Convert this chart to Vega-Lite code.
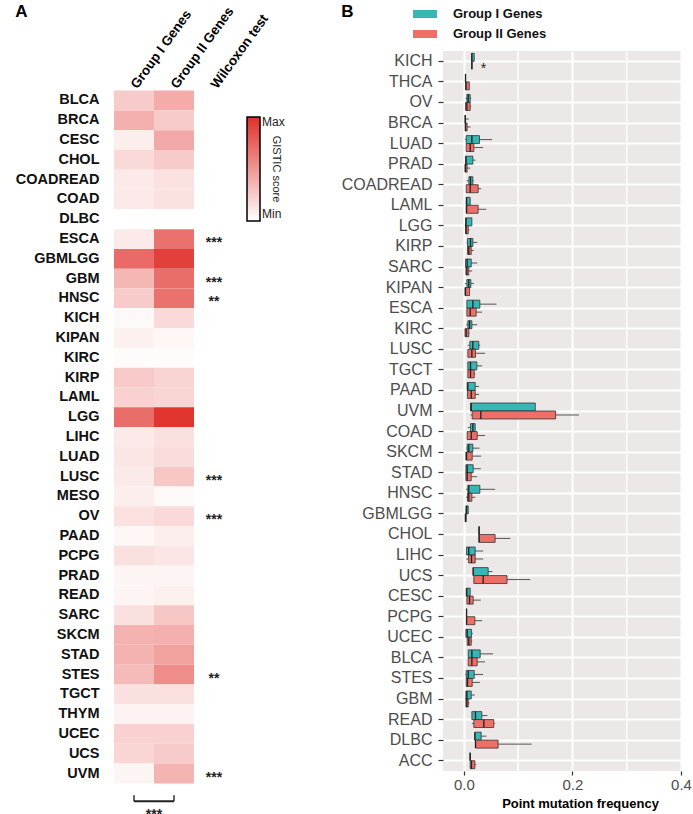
{
"$schema": "https://vega.github.io/schema/vega-lite/v6.json",
"background": "white",
"padding": {"left": 15, "top": 3, "right": 5, "bottom": 5},
"spacing": 56,
"config": {"font": "Liberation Sans", "view": {"stroke": null}},
"resolve": {"scale": {"color": "independent"}, "legend": {"color": "independent"}},
"datasets": {
"heat": [
{"c":"BLCA","Group I Genes":0.25,"Group II Genes":0.40,"w":""},
{"c":"BRCA","Group I Genes":0.38,"Group II Genes":0.25,"w":""},
{"c":"CESC","Group I Genes":0.08,"Group II Genes":0.42,"w":""},
{"c":"CHOL","Group I Genes":0.18,"Group II Genes":0.25,"w":""},
{"c":"COADREAD","Group I Genes":0.10,"Group II Genes":0.14,"w":""},
{"c":"COAD","Group I Genes":0.10,"Group II Genes":0.14,"w":""},
{"c":"DLBC","Group I Genes":0.0,"Group II Genes":0.0,"w":""},
{"c":"ESCA","Group I Genes":0.10,"Group II Genes":0.68,"w":"***"},
{"c":"GBMLGG","Group I Genes":0.72,"Group II Genes":0.92,"w":""},
{"c":"GBM","Group I Genes":0.35,"Group II Genes":0.70,"w":"***"},
{"c":"HNSC","Group I Genes":0.25,"Group II Genes":0.68,"w":"**"},
{"c":"KICH","Group I Genes":0.03,"Group II Genes":0.18,"w":""},
{"c":"KIPAN","Group I Genes":0.07,"Group II Genes":0.04,"w":""},
{"c":"KIRC","Group I Genes":0.02,"Group II Genes":0.02,"w":""},
{"c":"KIRP","Group I Genes":0.26,"Group II Genes":0.21,"w":""},
{"c":"LAML","Group I Genes":0.22,"Group II Genes":0.20,"w":""},
{"c":"LGG","Group I Genes":0.70,"Group II Genes":0.97,"w":""},
{"c":"LIHC","Group I Genes":0.10,"Group II Genes":0.15,"w":""},
{"c":"LUAD","Group I Genes":0.12,"Group II Genes":0.17,"w":""},
{"c":"LUSC","Group I Genes":0.10,"Group II Genes":0.27,"w":"***"},
{"c":"MESO","Group I Genes":0.08,"Group II Genes":0.03,"w":""},
{"c":"OV","Group I Genes":0.14,"Group II Genes":0.18,"w":"***"},
{"c":"PAAD","Group I Genes":0.04,"Group II Genes":0.08,"w":""},
{"c":"PCPG","Group I Genes":0.15,"Group II Genes":0.12,"w":""},
{"c":"PRAD","Group I Genes":0.05,"Group II Genes":0.05,"w":""},
{"c":"READ","Group I Genes":0.05,"Group II Genes":0.07,"w":""},
{"c":"SARC","Group I Genes":0.15,"Group II Genes":0.27,"w":""},
{"c":"SKCM","Group I Genes":0.37,"Group II Genes":0.38,"w":""},
{"c":"STAD","Group I Genes":0.37,"Group II Genes":0.45,"w":""},
{"c":"STES","Group I Genes":0.33,"Group II Genes":0.55,"w":"**"},
{"c":"TGCT","Group I Genes":0.15,"Group II Genes":0.15,"w":""},
{"c":"THYM","Group I Genes":0.06,"Group II Genes":0.06,"w":""},
{"c":"UCEC","Group I Genes":0.22,"Group II Genes":0.22,"w":""},
{"c":"UCS","Group I Genes":0.20,"Group II Genes":0.25,"w":""},
{"c":"UVM","Group I Genes":0.05,"Group II Genes":0.36,"w":"***"}
],
"box": [
{"c":"KICH","g":"Group I Genes","q1":0.0141,"md":0.0147,"q3":0.019},
{"c":"KICH","g":"Group II Genes","q1":0.0147,"md":0.0147,"q3":0.0147},
{"c":"THCA","g":"Group I Genes","q1":0.003,"md":0.003,"q3":0.003},
{"c":"THCA","g":"Group II Genes","q1":0.003,"md":0.004,"q3":0.010},
{"c":"OV","g":"Group I Genes","lo":0.003,"q1":0.0055,"md":0.008,"q3":0.0116,"hi":0.0135},
{"c":"OV","g":"Group II Genes","q1":0.003,"md":0.0055,"q3":0.0116,"hi":0.0135},
{"c":"BRCA","g":"Group I Genes","q1":0.0025,"md":0.0025,"q3":0.0025,"hi":0.009},
{"c":"BRCA","g":"Group II Genes","q1":0.0025,"md":0.003,"q3":0.006,"hi":0.012},
{"c":"LUAD","g":"Group I Genes","lo":0.002,"q1":0.0043,"md":0.0147,"q3":0.0287,"hi":0.052},
{"c":"LUAD","g":"Group II Genes","q1":0.0043,"md":0.0116,"q3":0.0183,"hi":0.0355},
{"c":"PRAD","g":"Group I Genes","q1":0.003,"md":0.004,"q3":0.0165,"hi":0.0214},
{"c":"PRAD","g":"Group II Genes","q1":0.002,"md":0.003,"q3":0.006,"hi":0.0116},
{"c":"COADREAD","g":"Group I Genes","lo":0.005,"q1":0.0092,"md":0.0122,"q3":0.0165,"hi":0.018},
{"c":"COADREAD","g":"Group II Genes","q1":0.0043,"md":0.0116,"q3":0.0263,"hi":0.0318},
{"c":"LAML","g":"Group I Genes","q1":0.0043,"md":0.005,"q3":0.0116},
{"c":"LAML","g":"Group II Genes","q1":0.0043,"md":0.005,"q3":0.0263,"hi":0.041},
{"c":"LGG","g":"Group I Genes","q1":0.003,"md":0.004,"q3":0.0147},
{"c":"LGG","g":"Group II Genes","q1":0.003,"md":0.004,"q3":0.008,"hi":0.0104},
{"c":"KIRP","g":"Group I Genes","lo":0.005,"q1":0.0067,"md":0.0122,"q3":0.0165,"hi":0.0245},
{"c":"KIRP","g":"Group II Genes","q1":0.0067,"md":0.009,"q3":0.0135,"hi":0.0183},
{"c":"SARC","g":"Group I Genes","q1":0.003,"md":0.006,"q3":0.0135,"hi":0.0245},
{"c":"SARC","g":"Group II Genes","q1":0.0037,"md":0.0055,"q3":0.009,"hi":0.0153},
{"c":"KIPAN","g":"Group I Genes","lo":0.0025,"q1":0.0055,"md":0.009,"q3":0.0128,"hi":0.0183},
{"c":"KIPAN","g":"Group II Genes","q1":0.002,"md":0.003,"q3":0.0104},
{"c":"ESCA","g":"Group I Genes","q1":0.0055,"md":0.0165,"q3":0.0294,"hi":0.06},
{"c":"ESCA","g":"Group II Genes","q1":0.0055,"md":0.0116,"q3":0.0226,"hi":0.0336},
{"c":"KIRC","g":"Group I Genes","lo":0.0043,"q1":0.0073,"md":0.0104,"q3":0.0147,"hi":0.0245},
{"c":"KIRC","g":"Group II Genes","q1":0.002,"md":0.0043,"q3":0.009,"hi":0.0104},
{"c":"LUSC","g":"Group I Genes","lo":0.0073,"q1":0.011,"md":0.0165,"q3":0.0275,"hi":0.03},
{"c":"LUSC","g":"Group II Genes","q1":0.0073,"md":0.0147,"q3":0.0214,"hi":0.039},
{"c":"TGCT","g":"Group I Genes","q1":0.0073,"md":0.0122,"q3":0.0239,"hi":0.0336},
{"c":"TGCT","g":"Group II Genes","q1":0.0073,"md":0.0122,"q3":0.019,"hi":0.021},
{"c":"PAAD","g":"Group I Genes","q1":0.0061,"md":0.0073,"q3":0.0208,"hi":0.028},
{"c":"PAAD","g":"Group II Genes","q1":0.0067,"md":0.0135,"q3":0.0208,"hi":0.028},
{"c":"UVM","g":"Group I Genes","q1":0.0122,"md":0.0135,"q3":0.1315},
{"c":"UVM","g":"Group II Genes","lo":0.0122,"q1":0.0153,"md":0.0312,"q3":0.169,"hi":0.212},
{"c":"COAD","g":"Group I Genes","lo":0.0073,"q1":0.0122,"md":0.0165,"q3":0.0208},
{"c":"COAD","g":"Group II Genes","q1":0.0061,"md":0.0135,"q3":0.0245,"hi":0.039},
{"c":"SKCM","g":"Group I Genes","lo":0.0043,"q1":0.0061,"md":0.009,"q3":0.0165,"hi":0.0287},
{"c":"SKCM","g":"Group II Genes","q1":0.0037,"md":0.0049,"q3":0.0153,"hi":0.0318},
{"c":"STAD","g":"Group I Genes","q1":0.0037,"md":0.0061,"q3":0.0171,"hi":0.0312},
{"c":"STAD","g":"Group II Genes","q1":0.0037,"md":0.0061,"q3":0.0135,"hi":0.0245},
{"c":"HNSC","g":"Group I Genes","lo":0.004,"q1":0.0073,"md":0.009,"q3":0.0294,"hi":0.0575},
{"c":"HNSC","g":"Group II Genes","lo":0.004,"q1":0.0067,"md":0.009,"q3":0.0147,"hi":0.0214},
{"c":"GBMLGG","g":"Group I Genes","q1":0.0037,"md":0.005,"q3":0.008},
{"c":"GBMLGG","g":"Group II Genes","q1":0.0025,"md":0.003,"q3":0.0043},
{"c":"CHOL","g":"Group I Genes","q1":0.028,"md":0.028,"q3":0.028},
{"c":"CHOL","g":"Group II Genes","q1":0.028,"md":0.028,"q3":0.0575,"hi":0.0856},
{"c":"LIHC","g":"Group I Genes","q1":0.0049,"md":0.009,"q3":0.0208,"hi":0.0355},
{"c":"LIHC","g":"Group II Genes","lo":0.0043,"q1":0.0086,"md":0.014,"q3":0.0208,"hi":0.0355},
{"c":"UCS","g":"Group I Genes","q1":0.0171,"md":0.0171,"q3":0.0447,"hi":0.0526},
{"c":"UCS","g":"Group II Genes","q1":0.0183,"md":0.0355,"q3":0.0795,"hi":0.1223},
{"c":"CESC","g":"Group I Genes","q1":0.0043,"md":0.0055,"q3":0.0116},
{"c":"CESC","g":"Group II Genes","q1":0.0055,"md":0.0104,"q3":0.0171,"hi":0.0312},
{"c":"PCPG","g":"Group I Genes","q1":0.0049,"md":0.0049,"q3":0.0049},
{"c":"PCPG","g":"Group II Genes","q1":0.0049,"md":0.0049,"q3":0.0202,"hi":0.0336},
{"c":"UCEC","g":"Group I Genes","q1":0.0037,"md":0.0061,"q3":0.0141,"hi":0.0165},
{"c":"UCEC","g":"Group II Genes","q1":0.0061,"md":0.009,"q3":0.0135,"hi":0.0153},
{"c":"BLCA","g":"Group I Genes","q1":0.008,"md":0.0147,"q3":0.03,"hi":0.054},
{"c":"BLCA","g":"Group II Genes","q1":0.008,"md":0.0147,"q3":0.0245,"hi":0.039},
{"c":"STES","g":"Group I Genes","lo":0.0025,"q1":0.0043,"md":0.008,"q3":0.019,"hi":0.0355},
{"c":"STES","g":"Group II Genes","q1":0.0043,"md":0.0067,"q3":0.0153,"hi":0.0294},
{"c":"GBM","g":"Group I Genes","q1":0.0037,"md":0.0055,"q3":0.0135,"hi":0.0202},
{"c":"GBM","g":"Group II Genes","q1":0.0037,"md":0.0055,"q3":0.008,"hi":0.0104},
{"c":"READ","g":"Group I Genes","q1":0.0147,"md":0.0214,"q3":0.033,"hi":0.0434},
{"c":"READ","g":"Group II Genes","lo":0.0147,"q1":0.0183,"md":0.0367,"q3":0.055,"hi":0.0575},
{"c":"DLBC","g":"Group I Genes","q1":0.0202,"md":0.0202,"q3":0.0318,"hi":0.0416},
{"c":"DLBC","g":"Group II Genes","q1":0.0214,"md":0.0214,"q3":0.063,"hi":0.1248},
{"c":"ACC","g":"Group I Genes","q1":0.0116,"md":0.0116,"q3":0.0116},
{"c":"ACC","g":"Group II Genes","q1":0.0116,"md":0.014,"q3":0.0202,"hi":0.0226}
]
},
"hconcat": [
{
"width": 120,
"height": 772,
"title": {"text": "A", "anchor": "start", "frame": "bounds", "fontSize": 17, "fontWeight": "bold", "color": "#000", "offset": -17},
"layer": [
{
"data": {"name": "heat"},
"transform": [{"fold": ["Group I Genes", "Group II Genes"], "as": ["col", "score"]}],
"mark": {"type": "rect"},
"encoding": {
"x": {"field": "col", "type": "nominal",
"scale": {"domain": ["Group I Genes", "Group II Genes", "Wilcoxon test"], "paddingInner": 0, "paddingOuter": 0},
"axis": {"orient": "top", "offset": -39.6, "title": null, "labelAngle": -54, "labelAlign": "left", "labelBaseline": "middle", "labelFontSize": 13.5, "labelFontWeight": "bold", "labelColor": "#000", "ticks": false, "domain": false, "labelPadding": 4}},
"y": {"field": "c", "type": "nominal",
"scale": {"domain": ["_t1","_t2","BLCA","BRCA","CESC","CHOL","COADREAD","COAD","DLBC","ESCA","GBMLGG","GBM","HNSC","KICH","KIPAN","KIRC","KIRP","LAML","LGG","LIHC","LUAD","LUSC","MESO","OV","PAAD","PCPG","PRAD","READ","SARC","SKCM","STAD","STES","TGCT","THYM","UCEC","UCS","UVM","_b1","_b2"], "paddingInner": 0, "paddingOuter": 0},
"axis": {"title": null, "ticks": false, "domain": false, "labelFontSize": 14.5, "labelFontWeight": "bold", "labelColor": "#111", "labelPadding": 15, "labelExpr": "indexof(datum.value, '_') == 0 ? '' : datum.value"}},
"color": {"field": "score", "type": "quantitative",
"scale": {"domain": [0, 1], "range": ["#ffffff", "#e0302a"], "interpolate": "rgb"},
"legend": {"orient": "none", "legendX": 133, "legendY": 66, "direction": "vertical", "gradientLength": 104, "gradientThickness": 13, "gradientStrokeColor": "#000", "gradientStrokeWidth": 1.5, "values": [0, 1], "labelExpr": "datum.value >= 1 ? 'Max' : 'Min'", "labelFontSize": 12, "labelColor": "#222", "labelBaseline": "middle", "title": "GISTIC score", "titleOrient": "right", "titleAngle": 270, "titleAnchor": "middle", "titleFontSize": 11, "titleFontWeight": "normal", "titleColor": "#222", "titlePadding": -14}}
}
},
{
"data": {"name": "heat"},
"transform": [{"filter": "datum.w != ''"}],
"mark": {"type": "text", "fontSize": 14, "fontWeight": "bold", "baseline": "middle", "dy": 4, "color": "#222"},
"encoding": {
"x": {"datum": "Wilcoxon test", "type": "nominal"},
"y": {"field": "c", "type": "nominal"},
"text": {"field": "w"}
}
},
{
"data": {"values": [{"a": "Group I Genes", "b": "Group II Genes", "c": "_b1"}]},
"mark": {"type": "rule", "strokeWidth": 2, "yOffset": 8, "color": "#222"},
"encoding": {
"x": {"field": "a", "type": "nominal"},
"x2": {"field": "b"},
"y": {"field": "c", "type": "nominal"}
}
},
{
"data": {"values": [{"a": "Group I Genes", "c": "_b1"}, {"a": "Group II Genes", "c": "_b1"}]},
"mark": {"type": "tick", "orient": "vertical", "size": 6, "thickness": 2, "yOffset": 5, "color": "#222"},
"encoding": {
"x": {"field": "a", "type": "nominal"},
"y": {"field": "c", "type": "nominal"}
}
},
{
"data": {"values": [{"a": "Group I Genes", "c": "_b2", "t": "***"}]},
"mark": {"type": "text", "fontSize": 14, "fontWeight": "bold", "baseline": "middle", "dy": 2, "dx": 20, "color": "#222"},
"encoding": {
"x": {"field": "a", "type": "nominal"},
"y": {"field": "c", "type": "nominal"},
"text": {"field": "t"}
}
}
]
},
{
"width": 238,
"height": 720,
"view": {"fill": "#ece8e7", "stroke": null},
"title": {"text": "B", "anchor": "start", "frame": "bounds", "fontSize": 17, "fontWeight": "bold", "color": "#000", "offset": -17},
"layer": [
{
"data": {"values": [{"v": 0.1}, {"v": 0.3}]},
"mark": {"type": "rule", "color": "white", "strokeWidth": 1.5},
"encoding": {"x": {"field": "v", "type": "quantitative"}}
},
{
"data": {"name": "box"},
"mark": {"type": "rule", "color": "#555", "strokeWidth": 1},
"encoding": {
"x": {"field": "q3", "type": "quantitative"},
"x2": {"field": "hi"},
"y": {"field": "c", "type": "nominal"},
"yOffset": {"field": "g", "type": "nominal"}
}
},
{
"data": {"name": "box"},
"mark": {"type": "rule", "color": "#555", "strokeWidth": 1},
"encoding": {
"x": {"field": "lo", "type": "quantitative"},
"x2": {"field": "q1"},
"y": {"field": "c", "type": "nominal"},
"yOffset": {"field": "g", "type": "nominal"}
}
},
{
"data": {"name": "box"},
"mark": {"type": "bar", "stroke": "#333", "strokeWidth": 0.8},
"encoding": {
"x": {"field": "q1", "type": "quantitative",
"scale": {"domain": [-0.0385, 0.4], "nice": false, "zero": false},
"axis": {"values": [0, 0.2, 0.4], "format": ".1f", "labelFontSize": 15, "labelColor": "#4d4d4d", "labelFlush": false, "tickColor": "#333", "tickSize": 4, "tickWidth": 1.2, "domain": false, "grid": true, "gridColor": "white", "gridWidth": 2, "labelPadding": 2, "title": "Point mutation frequency", "titleFontSize": 13, "titleFontWeight": "bold", "titleColor": "#000", "titlePadding": 5, "titleX": 137}},
"x2": {"field": "q3"},
"y": {"field": "c", "type": "nominal",
"scale": {"domain": ["KICH","THCA","OV","BRCA","LUAD","PRAD","COADREAD","LAML","LGG","KIRP","SARC","KIPAN","ESCA","KIRC","LUSC","TGCT","PAAD","UVM","COAD","SKCM","STAD","HNSC","GBMLGG","CHOL","LIHC","UCS","CESC","PCPG","UCEC","BLCA","STES","GBM","READ","DLBC","ACC"], "paddingInner": 0, "paddingOuter": 0},
"axis": {"title": null, "labelFontSize": 16, "labelColor": "#4d4d4d", "tickColor": "#333", "tickSize": 5, "tickWidth": 1.2, "domain": false, "grid": true, "gridColor": "white", "gridWidth": 2, "bandPosition": 0.5, "labelPadding": 6}},
"yOffset": {"field": "g", "type": "nominal", "scale": {"domain": ["Group I Genes", "Group II Genes"], "paddingInner": 0, "paddingOuter": 0.29}},
"color": {"field": "g", "type": "nominal",
"scale": {"domain": ["Group I Genes", "Group II Genes"], "range": ["#35b7b5", "#ee6f67"]},
"legend": {"orient": "none", "legendX": -30, "legendY": -47, "title": null, "direction": "vertical", "symbolType": "M-1,-0.333H1V0.333H-1Z", "symbolSize": 576, "symbolStrokeWidth": 0, "labelFontSize": 13, "labelFontWeight": "bold", "labelColor": "#111", "labelOffset": 16, "clipHeight": 20, "rowPadding": 0}}
}
},
{
"data": {"name": "box"},
"mark": {"type": "bar", "stroke": "#222", "strokeWidth": 1.3, "fillOpacity": 0},
"encoding": {
"x": {"field": "md", "type": "quantitative"},
"x2": {"field": "md"},
"y": {"field": "c", "type": "nominal"},
"yOffset": {"field": "g", "type": "nominal"}
}
},
{
"data": {"values": [{"c": "KICH", "g": "Group II Genes", "x": 0.036, "t": "*"}]},
"mark": {"type": "text", "fontSize": 14, "baseline": "middle", "dy": 4, "color": "#222"},
"encoding": {
"x": {"field": "x", "type": "quantitative"},
"y": {"field": "c", "type": "nominal"},
"yOffset": {"field": "g", "type": "nominal"},
"text": {"field": "t"}
}
}
]
}
]
}
